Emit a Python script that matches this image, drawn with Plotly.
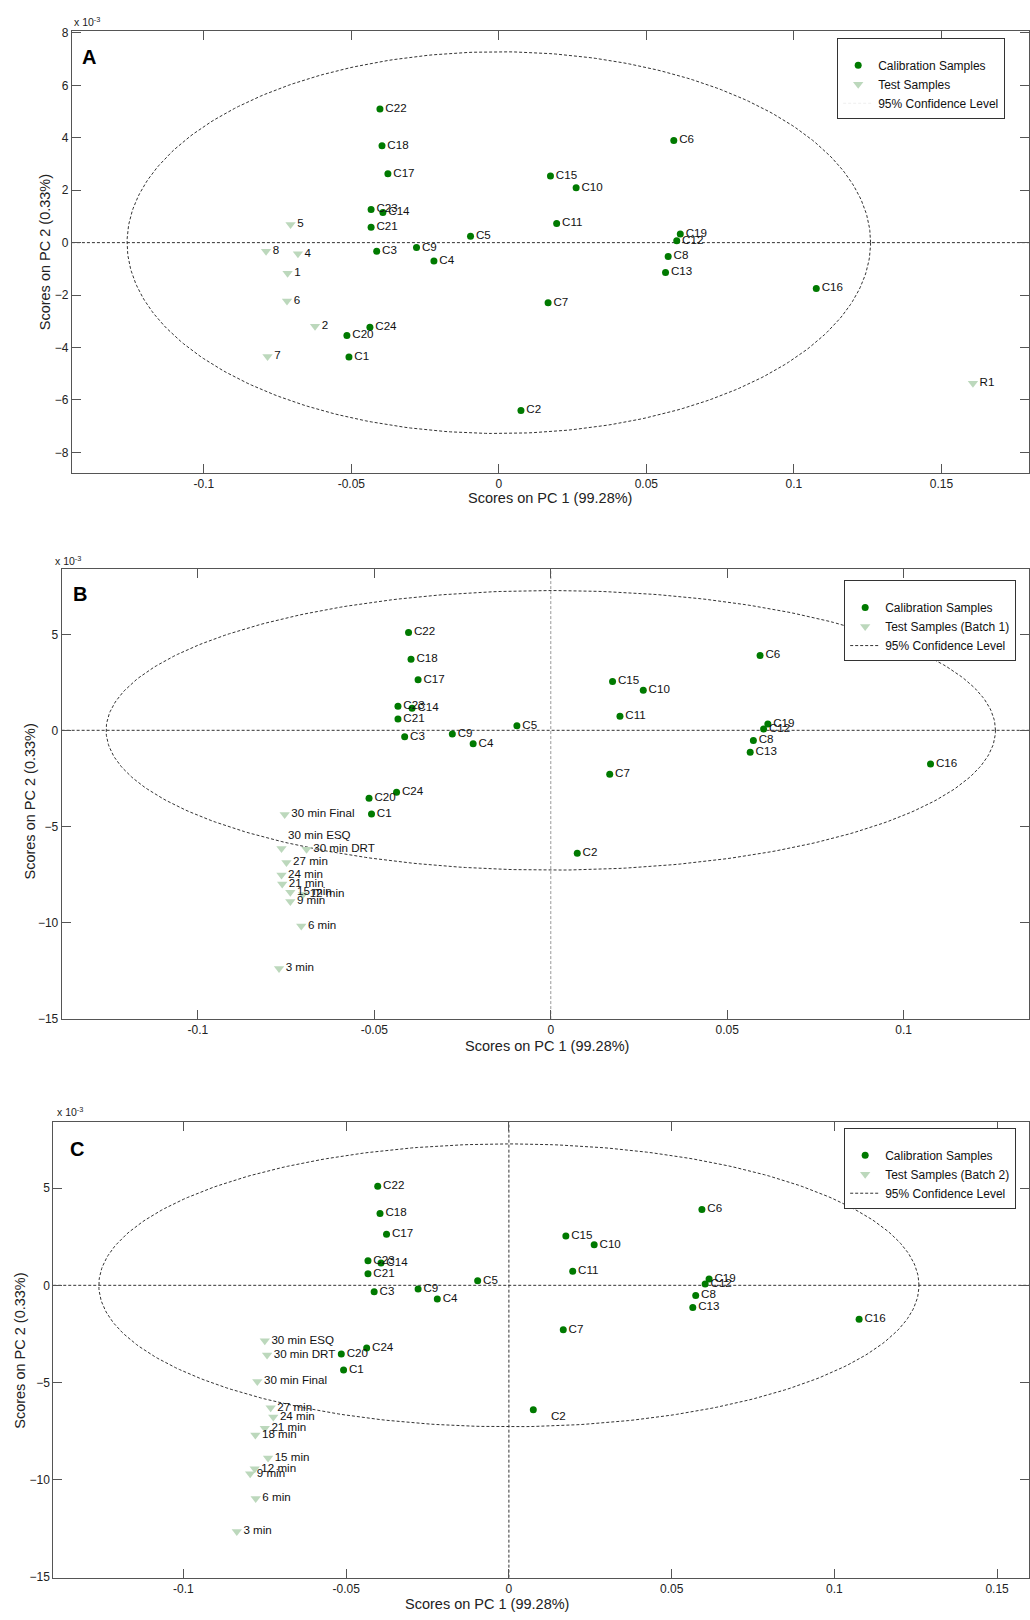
import numpy as np
import plotly.graph_objects as go

FONT = "Liberation Sans, Arial, sans-serif"

# ---------------- data ----------------
cal_labels = ["C1", "C2", "C3", "C4", "C5", "C6", "C7", "C8", "C9", "C10", "C11", "C12",
              "C13", "C14", "C15", "C16", "C17", "C18", "C19", "C20", "C21", "C22", "C23", "C24"]
cal_pc1 = [-0.0508, 0.0075, -0.0414, -0.0220, -0.0096, 0.0593, 0.0167, 0.0574, -0.0279, 0.0262,
           0.0196, 0.0603, 0.0565, -0.0393, 0.0175, 0.1076, -0.0376, -0.0396, 0.0615, -0.0515,
           -0.0433, -0.0403, -0.0433, -0.0437]
cal_pc2 = [-4.36, -6.40, -0.33, -0.70, 0.24, 3.90, -2.29, -0.53, -0.19, 2.09,
           0.73, 0.07, -1.14, 1.15, 2.54, -1.75, 2.63, 3.70, 0.33, -3.54,
           0.59, 5.10, 1.26, -3.23]

testA_labels = ["1", "2", "4", "5", "6", "7", "8", "R1"]
testA_pc1 = [-0.0716, -0.0623, -0.0681, -0.0706, -0.0718, -0.0784, -0.0789, 0.1607]
testA_pc2 = [-1.17, -3.19, -0.42, 0.69, -2.23, -4.34, -0.33, -5.36]

testB_labels = ["30 min Final", "30 min ESQ", "30 min DRT", "27 min", "24 min", "21 min",
                "15 min", "12 min", "9 min", "6 min", "3 min"]
testB_pc1 = [-0.0754, -0.0763, -0.0692, -0.0749, -0.0763, -0.0761, -0.0738, -0.0702, -0.0738, -0.0707, -0.0770]
testB_pc2 = [-4.38, -6.16, -6.19, -6.88, -7.54, -8.00, -8.43, -8.55, -8.92, -10.19, -12.40]

testC_labels = ["30 min ESQ", "30 min DRT", "30 min Final", "27 min", "24 min", "21 min",
                "18 min", "15 min", "12 min", "9 min", "6 min", "3 min"]
testC_pc1 = [-0.0750, -0.0743, -0.0773, -0.0732, -0.0724, -0.0750, -0.0779, -0.0740, -0.0781, -0.0795, -0.0778, -0.0836]
testC_pc2 = [-2.85, -3.59, -4.95, -6.30, -6.78, -7.36, -7.71, -8.89, -9.44, -9.70, -10.97, -12.67]

# 95% confidence limits (semi-axes of the ellipse)
conf_pc1 = 0.126
conf_pc2 = 7.28

x_tickvals = [-0.1, -0.05, 0, 0.05, 0.1, 0.15]
x_ticktext = ["-0.1", "-0.05", "0", "0.05", "0.1", "0.15"]
yA_tickvals = [-8, -6, -4, -2, 0, 2, 4, 6, 8]
yBC_tickvals = [-15, -10, -5, 0, 5]

# ---------------- styles ----------------
CAL_COLOR = "#007a00"
TEST_COLOR = "#bcd8bc"
AX_COLOR = "#555555"
LBL = 11.6

theta = np.linspace(0, 2 * np.pi, 400)
ell_x = conf_pc1 * np.cos(theta)
ell_y = conf_pc2 * np.sin(theta)

fig = go.Figure()

panels = [
    dict(xa="x", ya="y", leg="legend", tl=testA_labels, tx=testA_pc1, ty=testA_pc2,
         test_name="Test Samples", ell_leg=False),
    dict(xa="x2", ya="y2", leg="legend2", tl=testB_labels, tx=testB_pc1, ty=testB_pc2,
         test_name="Test Samples (Batch 1)", ell_leg=True),
    dict(xa="x3", ya="y3", leg="legend3", tl=testC_labels, tx=testC_pc1, ty=testC_pc2,
         test_name="Test Samples (Batch 2)", ell_leg=True),
]

for i, p in enumerate(panels):
    fig.add_trace(go.Scatter(
        x=ell_x, y=ell_y, mode="lines", xaxis=p["xa"], yaxis=p["ya"],
        line=dict(color="#333333", width=1, dash="3px,2px"),
        name="95% Confidence Level", legend=p["leg"], legendrank=3,
        showlegend=p["ell_leg"], hoverinfo="skip"))
    if not p["ell_leg"]:
        fig.add_trace(go.Scatter(
            x=[None], y=[None], mode="lines", xaxis=p["xa"], yaxis=p["ya"],
            line=dict(color="#eeeeee", width=1, dash="3px,2px"),
            name="95% Confidence Level", legend=p["leg"], legendrank=3, showlegend=True))
    cal_text = list(cal_labels)
    if i == 2:
        cal_text[cal_labels.index("C2")] = ""
    fig.add_trace(go.Scatter(
        x=cal_pc1, y=cal_pc2, mode="markers+text", xaxis=p["xa"], yaxis=p["ya"],
        text=cal_text, textposition="middle right",
        textfont=dict(family=FONT, size=LBL, color="#111111"),
        marker=dict(symbol="circle", size=7, color=CAL_COLOR),
        name="Calibration Samples", legend=p["leg"], legendrank=1))
    tpos = ["middle right"] * len(p["tl"])
    if i == 1:
        tpos[p["tl"].index("30 min ESQ")] = "top right"
    fig.add_trace(go.Scatter(
        x=p["tx"], y=p["ty"], mode="markers+text", xaxis=p["xa"], yaxis=p["ya"],
        text=p["tl"], textposition=tpos,
        textfont=dict(family=FONT, size=LBL, color="#111111"),
        marker=dict(symbol="triangle-down", size=9, color=TEST_COLOR),
        name=p["test_name"], legend=p["leg"], legendrank=2))

W, H = 1030, 1620

def px_x(v):
    return v / W

def px_y(v):
    return 1 - v / H

ax_common = dict(showline=True, linecolor=AX_COLOR, linewidth=1, mirror="ticks",
                 ticks="inside", ticklen=9, tickcolor=AX_COLOR, showgrid=False,
                 zeroline=False, tickfont=dict(family=FONT, size=12, color="#222222"))

fig.update_layout(
    width=W, height=H, margin=dict(l=0, r=0, t=0, b=0),
    paper_bgcolor="white", plot_bgcolor="white",
    font=dict(family=FONT, size=12, color="#222222"),
    xaxis=dict(domain=[px_x(72), 1.0], range=[-0.1447, 0.1797], anchor="y",
               tickvals=x_tickvals, ticktext=x_ticktext, **ax_common),
    yaxis=dict(domain=[px_y(471), px_y(26)], range=[-8.78, 8.08], anchor="x",
               tickvals=yA_tickvals, **ax_common),
    xaxis2=dict(domain=[px_x(61.7), 1.0], range=[-0.1386, 0.1355], anchor="y2",
                tickvals=x_tickvals, ticktext=x_ticktext, **ax_common),
    yaxis2=dict(domain=[px_y(1021), px_y(568.3)], range=[-15.04, 8.38], anchor="x2",
                tickvals=yBC_tickvals, **ax_common),
    xaxis3=dict(domain=[px_x(53.3), 1.0], range=[-0.1400, 0.1598], anchor="y3",
                tickvals=x_tickvals, ticktext=x_ticktext, **ax_common),
    yaxis3=dict(domain=[px_y(1583.4), px_y(1124.8)], range=[-15.05, 8.40], anchor="x3",
                tickvals=yBC_tickvals, **ax_common),
)

leg_common = dict(xanchor="left", yanchor="top", bgcolor="white", bordercolor="#333333",
                  borderwidth=1, font=dict(family=FONT, size=12, color="#111111"),
                  itemwidth=30, tracegroupgap=0,
                  title=dict(text=" ", font=dict(size=9)))
fig.update_layout(
    legend=dict(x=px_x(838), y=px_y(33.3), **leg_common),
    legend2=dict(x=px_x(845), y=px_y(579.3), **leg_common),
    legend3=dict(x=px_x(845), y=px_y(1130.7), **leg_common),
)

for xa, ya, vert, vcol in [("x", "y", False, None), ("x2", "y2", True, "#999999"), ("x3", "y3", True, "#333333")]:
    fig.add_shape(type="line", xref=f"{xa} domain", x0=0, x1=1, yref=ya, y0=0, y1=0,
                  line=dict(color="#333333", width=1, dash="3px,2px"), layer="below")
    if vert:
        fig.add_shape(type="line", yref=f"{ya} domain", y0=0, y1=1, xref=xa, x0=0, x1=0,
                      line=dict(color=vcol, width=1, dash="3px,2px"), layer="below")

ann = []
for xp, yp in [(72, 17), (53.3, 559), (55, 1114.4)]:
    ann.append(dict(x=px_x(xp), y=px_y(yp), xref="paper", yref="paper", text="x 10<sup>-3</sup>",
                    showarrow=False, xanchor="left", yanchor="middle",
                    font=dict(family=FONT, size=10.5, color="#222222")))
for letter, xp, yp in [("A", 80, 52), ("B", 71, 593), ("C", 68, 1152)]:
    ann.append(dict(x=px_x(xp), y=px_y(yp), xref="paper", yref="paper", text=f"<b>{letter}</b>",
                    showarrow=False, xanchor="left", yanchor="middle",
                    font=dict(family=FONT, size=20, color="#000000")))
for xp, yp in [(551, 496.7), (548, 1048.3), (487, 1610.3)]:
    ann.append(dict(x=px_x(xp), y=px_y(yp), xref="paper", yref="paper", text="Scores on PC 1 (99.28%)",
                    showarrow=False, xanchor="center", yanchor="middle",
                    font=dict(family=FONT, size=14.5, color="#222222")))
for xp, yp in [(45, 249), (30, 802), (20, 1355)]:
    ann.append(dict(x=px_x(xp), y=px_y(yp), xref="paper", yref="paper", text="Scores on PC 2 (0.33%)",
                    showarrow=False, xanchor="center", yanchor="middle", textangle=-90,
                    font=dict(family=FONT, size=14.5, color="#222222")))
i_c2 = cal_labels.index("C2")
ann.append(dict(x=cal_pc1[i_c2], y=cal_pc2[i_c2], xref="x3", yref="y3", text="C2",
                showarrow=False, xanchor="left", yanchor="middle", xshift=16, yshift=-6,
                font=dict(family=FONT, size=LBL, color="#111111")))
fig.update_layout(annotations=ann)

fig.write_html(
    "out.html",
    config={"displayModeBar": False},
    post_script="document.body.style.margin='0';document.body.style.overflow='hidden';",
)
